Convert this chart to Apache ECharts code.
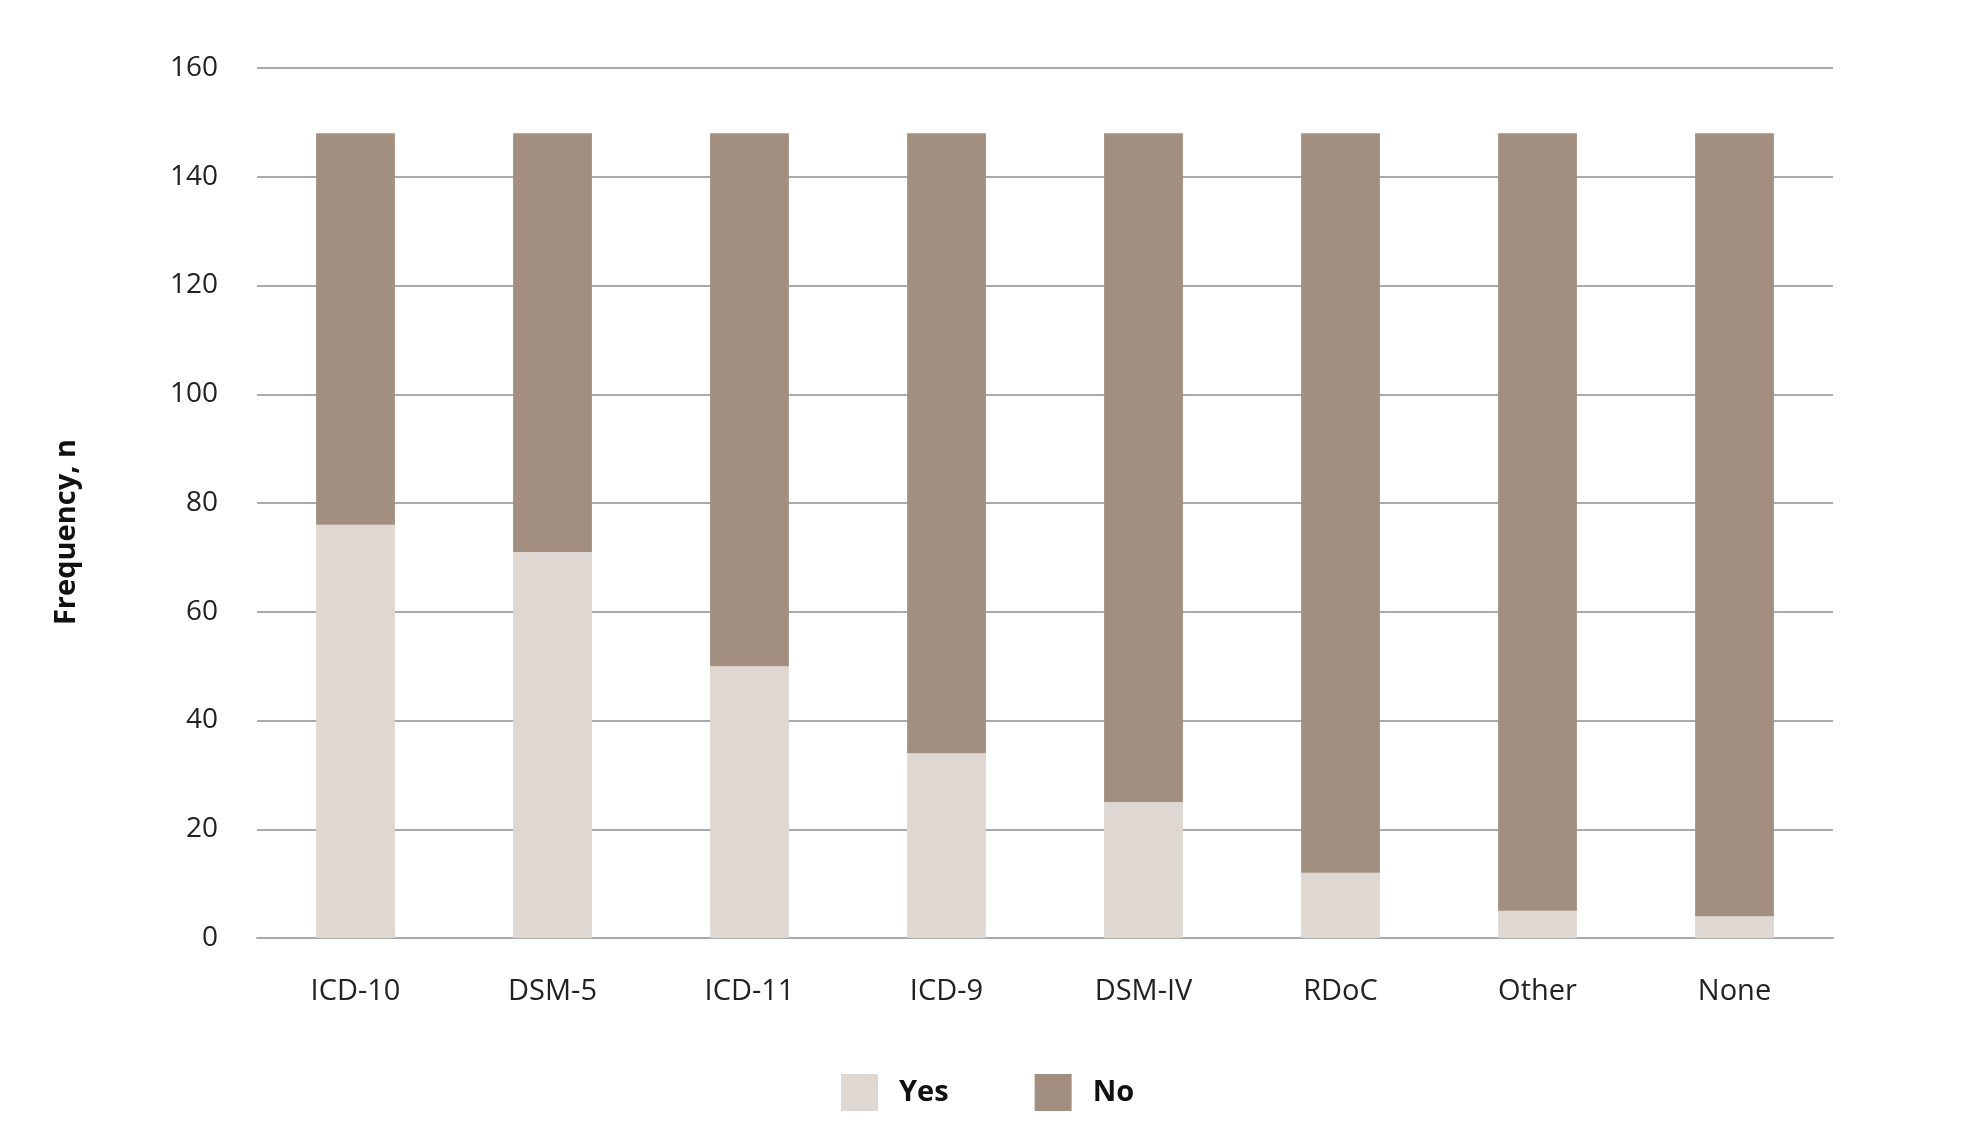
<!DOCTYPE html>
<html>
<head>
<meta charset="utf-8">
<script src="https://cdn.jsdelivr.net/npm/echarts@6/dist/echarts.min.js"></script>
<style>html,body{margin:0;padding:0;background:#fff;}#c{width:1985px;height:1148px;}</style>
</head>
<body>
<div id="c"></div>
<script>
var categories = ['ICD-10', 'DSM-5', 'ICD-11', 'ICD-9', 'DSM-IV', 'RDoC', 'Other', 'None'];
var yesValues = [76, 71, 50, 34, 25, 12, 5, 4];
var noValues = [72, 77, 98, 114, 123, 136, 143, 144];
var yTicks = [0, 20, 40, 60, 80, 100, 120, 140, 160];

var chart = echarts.init(document.getElementById('c'));
var font = 'Open Sans';
chart.setOption({
  animation: false,
  backgroundColor: '#ffffff',
  grid: { left: 257, right: 152, top: 68, bottom: 210, containLabel: false },
  legend: {
    data: ['Yes', 'No'],
    bottom: 32,
    left: 836,
    itemWidth: 37,
    itemHeight: 37,
    itemGap: 86,
    icon: 'rect',
    textStyle: { fontFamily: font, fontSize: 29, fontWeight: 'bold', color: '#111', padding: [0, 0, 0, 16] }
  },
  xAxis: {
    type: 'category',
    data: categories,
    axisLine: { show: true, lineStyle: { color: '#aaaaaa', width: 2 } },
    axisTick: { show: false },
    axisLabel: { fontFamily: font, fontSize: 29, color: '#222', margin: 39 }
  },
  yAxis: {
    type: 'value',
    min: yTicks[0],
    max: yTicks[yTicks.length - 1],
    interval: 20,
    name: 'Frequency, n',
    nameLocation: 'middle',
    nameGap: 176,
    nameRotate: 90,
    nameTextStyle: { fontFamily: font, fontSize: 29, fontWeight: 'bold', color: '#111', padding: [0, 58, 0, 0] },
    axisLine: { show: false },
    axisTick: { show: false },
    axisLabel: { fontFamily: font, fontSize: 28, color: '#222', margin: 39 },
    splitLine: { lineStyle: { color: '#aaaaaa', width: 2 } }
  },
  series: [
    { name: 'Yes', type: 'bar', stack: 'total', data: yesValues, barWidth: '40%', itemStyle: { color: '#dfd7d1' } },
    { name: 'No', type: 'bar', stack: 'total', data: noValues, barWidth: '40%', itemStyle: { color: '#a28f7f' } }
  ]
});
</script>
</body>
</html>
